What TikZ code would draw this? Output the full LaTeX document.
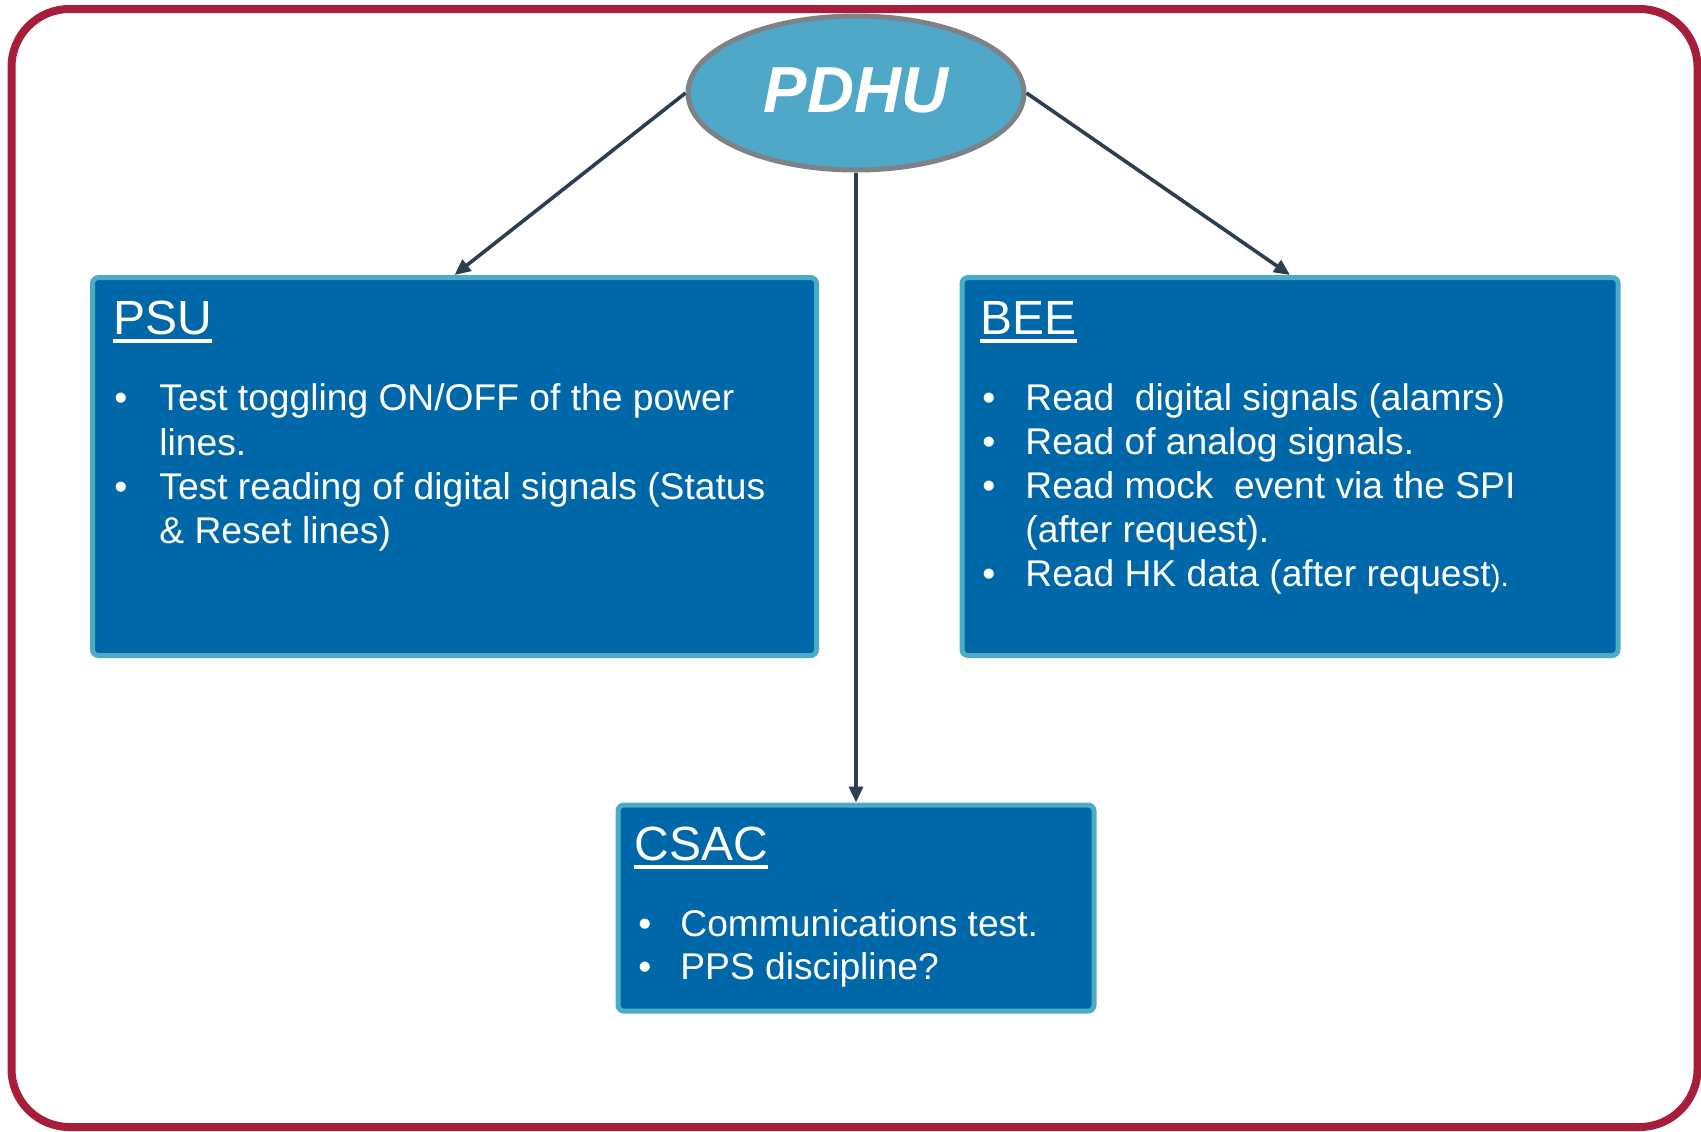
\documentclass[tikz,border=0pt]{standalone}
\usepackage{fontspec}
\setmainfont{Liberation Sans}
\usetikzlibrary{shapes.geometric,arrows.meta}
\definecolor{framered}{RGB}{166,30,58}
\definecolor{boxfill}{RGB}{0,104,168}
\definecolor{boxline}{RGB}{75,172,198}
\definecolor{hubfill}{RGB}{79,168,199}
\definecolor{hubline}{RGB}{125,130,135}
\definecolor{conncol}{RGB}{44,62,80}
\tikzset{
  frame/.style={draw=framered, line width=4pt, rounded corners=29pt},
  box/.style={draw=boxline, fill=boxfill, line width=2.5pt, rounded corners=3pt, inner sep=0pt},
  hub/.style={ellipse, draw=hubline, fill=hubfill, line width=2.5pt, inner sep=0pt,
    minimum width=168pt, minimum height=77pt, text=white, text height=23pt, text depth=4pt,
    font=\fontsize{32.5}{36}\selectfont\bfseries\itshape},
  conn/.style={draw=conncol, line width=1.8pt, -{Triangle[length=8pt,width=7pt]}},
  ttl/.style={text=white, font=\fontsize{24}{28}\selectfont, inner sep=0pt, anchor=base west},
  ln/.style={text=white, font=\fontsize{18.6}{22.2}\selectfont, inner sep=0pt, anchor=base west},
  uline/.style={draw=white, line width=2pt}
}
\begin{document}
\begin{tikzpicture}[x=0.5pt,y=-0.5pt]
\useasboundingbox (0,0) rectangle (1701,1131);
\draw[frame] (11.5,9) rectangle (1697.5,1127);

% hub
\node[hub] (p) at (856,93) {PDHU};

% boxes
\node[box, minimum width=362pt, minimum height=189pt] (psu) at (454.5,466.5) {};
\node[box, minimum width=328pt, minimum height=189pt] (bee) at (1290,466.5) {};
\node[box, minimum width=238pt, minimum height=103pt] (csac) at (856,908) {};

% connectors
\draw[conn] (p.west) -- (psu.north);
\draw[conn] (p.east) -- (bee.north);
\draw[conn] (p.south) -- (csac.north);

% PSU text
\node[ttl] (psut) at (113,334) {PSU};
\draw[uline] ([yshift=-3.4pt]psut.base west) -- ([yshift=-3.4pt]psut.base east);
\node[ln] (psub1) at (114,410.7) {\textbullet};
\node[ln] (psu1a) at (159,410.7) {Test toggling ON/OFF of the power};
\node[ln] (psu1b) at (159,455) {lines.};
\node[ln] (psub2) at (114,499.3) {\textbullet};
\node[ln] (psu2a) at (159,499.3) {Test reading of digital signals (Status};
\node[ln] (psu2b) at (159,543.6) {\& Reset lines)};

% BEE text
\node[ttl] (beet) at (980,334) {BEE};
\draw[uline] ([yshift=-3.4pt]beet.base west) -- ([yshift=-3.4pt]beet.base east);
\node[ln] (beeb1) at (982,410) {\textbullet};
\node[ln] (bee1) at (1025,410) {Read\ \ digital signals (alamrs)};
\node[ln] (beeb2) at (982,454) {\textbullet};
\node[ln] (bee2) at (1025,454) {Read of analog signals.};
\node[ln] (beeb3) at (982,498) {\textbullet};
\node[ln] (bee3a) at (1025,498) {Read mock\ \ event via the SPI};
\node[ln] (bee3b) at (1025,542) {(after request).};
\node[ln] (beeb4) at (982,586) {\textbullet};
\node[ln] (bee4) at (1025,586) {Read HK data (after request{\fontsize{15}{18}\selectfont).}};

% CSAC text
\node[ttl] (csact) at (634,860) {CSAC};
\draw[uline] ([yshift=-3.4pt]csact.base west) -- ([yshift=-3.4pt]csact.base east);
\node[ln] (csacb1) at (638,936) {\textbullet};
\node[ln] (csac1) at (680,936) {Communications test.};
\node[ln] (csacb2) at (638,979) {\textbullet};
\node[ln] (csac2) at (680,979) {PPS discipline?};
\end{tikzpicture}
\end{document}
